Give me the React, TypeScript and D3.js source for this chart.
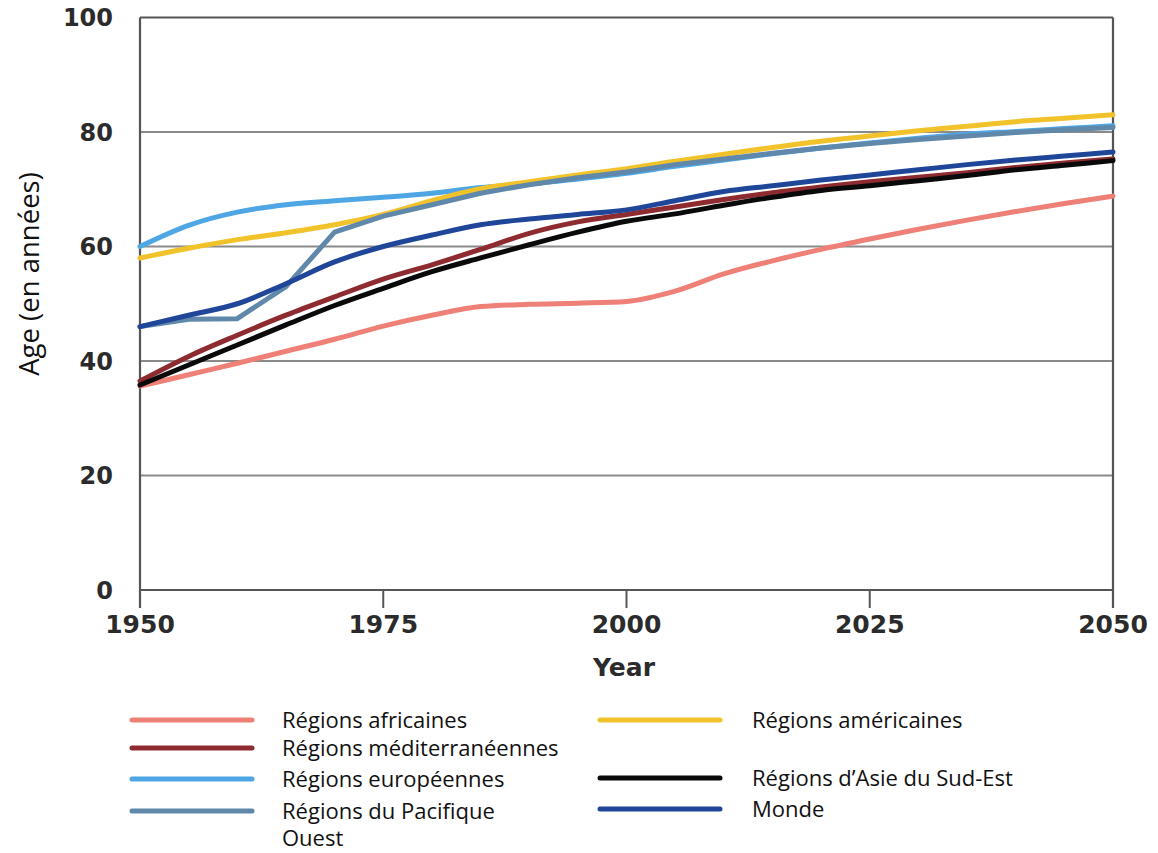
import React from "react";
import * as d3 from "d3";

const years = [1950, 1955, 1960, 1965, 1970, 1975, 1980, 1985, 1990, 1995, 2000, 2005, 2010, 2015, 2020, 2025, 2030, 2035, 2040, 2045, 2050];

const africaines = [35.6, 37.6, 39.6, 41.7, 43.8, 46.1, 48.0, 49.5, 49.9, 50.1, 50.4, 52.2, 55.2, 57.5, 59.5, 61.3, 63.0, 64.6, 66.1, 67.5, 68.8];
const americaines = [58.0, 59.7, 61.2, 62.4, 63.8, 65.6, 68.0, 70.1, 71.3, 72.5, 73.6, 74.9, 76.1, 77.3, 78.4, 79.3, 80.2, 81.0, 81.8, 82.4, 83.0];
const mediterraneennes = [36.5, 40.8, 44.5, 48.0, 51.2, 54.3, 56.8, 59.5, 62.3, 64.3, 65.6, 66.9, 68.2, 69.4, 70.4, 71.3, 72.1, 72.9, 73.8, 74.6, 75.3];
const europeennes = [60.0, 63.7, 66.0, 67.3, 68.0, 68.6, 69.3, 70.3, 70.9, 71.8, 72.8, 74.0, 75.1, 76.2, 77.2, 78.1, 78.9, 79.6, 80.1, 80.6, 81.1];
const asieSudEst = [35.8, 39.3, 42.8, 46.3, 49.7, 52.7, 55.6, 58.0, 60.3, 62.5, 64.4, 65.7, 67.2, 68.6, 69.8, 70.6, 71.5, 72.4, 73.4, 74.2, 75.0];
const pacifiqueOuest = [46.0, 47.3, 47.4, 53.0, 62.5, 65.3, 67.3, 69.3, 70.8, 72.0, 73.0, 74.3, 75.3, 76.3, 77.2, 78.0, 78.7, 79.3, 79.9, 80.4, 80.8];
const monde = [46.0, 48.0, 50.0, 53.5, 57.3, 60.0, 62.0, 63.8, 64.8, 65.6, 66.4, 68.0, 69.6, 70.6, 71.6, 72.5, 73.4, 74.3, 75.1, 75.8, 76.5];

const xTicks = [1950, 1975, 2000, 2025, 2050];
const yTicks = [0, 20, 40, 60, 80, 100];

const series = [
  { name: "Régions africaines", values: africaines, color: "#ee8078", smooth: true },
  { name: "Régions méditerranéennes", values: mediterraneennes, color: "#8e2b30", smooth: true },
  { name: "Régions européennes", values: europeennes, color: "#4ea6e4", smooth: true },
  { name: "Régions américaines", values: americaines, color: "#f2c22a", smooth: true },
  { name: "Régions du Pacifique Ouest", values: pacifiqueOuest, color: "#5f88aa", smooth: false },
  { name: "Régions d’Asie du Sud-Est", values: asieSudEst, color: "#0a0a0a", smooth: true },
  { name: "Monde", values: monde, color: "#1f4699", smooth: true },
];

export default function App() {
  const left = 140, right = 1113, top = 17.5, bottom = 590;
  const x = d3.scaleLinear().domain([1950, 2050]).range([left, right]);
  const y = d3.scaleLinear().domain([0, 100]).range([bottom, top]);
  const smoothLine = d3
    .line<number>()
    .x((_, i) => x(years[i]))
    .y((v) => y(v))
    .curve(d3.curveMonotoneX);
  const straightLine = d3
    .line<number>()
    .x((_, i) => x(years[i]))
    .y((v) => y(v))
    .curve(d3.curveLinear);

  const tickFont = { fontFamily: "'DejaVu Sans', sans-serif", fontWeight: "bold", fontSize: 24, fill: "#2b2b2b" } as const;
  const legFont = { fontFamily: "'Open Sans', sans-serif", fontSize: 22, fill: "#111" } as const;

  const legendItems = [
    { s: series[0], lx: 132, ly: 720, tx: 282, lines: ["Régions africaines"] },
    { s: series[1], lx: 132, ly: 748, tx: 282, lines: ["Régions méditerranéennes"] },
    { s: series[2], lx: 132, ly: 779, tx: 282, lines: ["Régions européennes"] },
    { s: series[4], lx: 132, ly: 811, tx: 282, lines: ["Régions du Pacifique", "Ouest"] },
    { s: series[3], lx: 600, ly: 720, tx: 752, lines: ["Régions américaines"] },
    { s: series[5], lx: 600, ly: 778, tx: 752, lines: ["Régions d’Asie du Sud-Est"] },
    { s: series[6], lx: 600, ly: 809, tx: 752, lines: ["Monde"] },
  ];

  return (
    <svg width={1158} height={853} style={{ position: "absolute", left: 0, top: 0, background: "#fff" }}>
      {yTicks.map((t) => (
        <line key={"g" + t} x1={left} x2={right} y1={y(t)} y2={y(t)} stroke={t === 0 || t === 100 ? "#555" : "#8a8a8a"} strokeWidth={2} />
      ))}
      <line x1={left} x2={left} y1={top} y2={608} stroke="#555" strokeWidth={2.2} />
      <line x1={right} x2={right} y1={top} y2={608} stroke="#555" strokeWidth={2.2} />
      {xTicks.map((t) => (
        <line key={"xt" + t} x1={x(t)} x2={x(t)} y1={bottom} y2={608} stroke="#555" strokeWidth={2} />
      ))}
      {yTicks.map((t) => (
        <text key={"yl" + t} x={113} y={y(t)} dy="0.36em" textAnchor="end" {...tickFont}>
          {t}
        </text>
      ))}
      {xTicks.map((t) => (
        <text key={"xl" + t} x={x(t)} y={633} textAnchor="middle" {...tickFont} fontSize={25}>
          {t}
        </text>
      ))}
      <text x={624} y={676} textAnchor="middle" {...tickFont} fontSize={25}>
        Year
      </text>
      <text
        transform={`translate(39,274) rotate(-90)`}
        textAnchor="middle"
        fontFamily="'Open Sans', sans-serif"
        fontSize={27.5}
        fill="#111"
      >
        Age (en années)
      </text>
      {series.map((s) => (
        <path
          key={s.name}
          d={(s.smooth ? smoothLine(s.values) : straightLine(s.values)) || ""}
          fill="none"
          stroke={s.color}
          strokeWidth={5}
          strokeLinejoin="round"
          strokeLinecap="round"
        />
      ))}
      {legendItems.map((it) => (
        <g key={"lg" + it.s.name}>
          <line x1={it.lx} x2={it.lx + 120} y1={it.ly} y2={it.ly} stroke={it.s.color} strokeWidth={5} strokeLinecap="round" />
          {it.lines.map((ln, i) => (
            <text key={i} x={it.tx} y={it.ly + 27 * i} dy="0.35em" {...legFont}>
              {ln}
            </text>
          ))}
        </g>
      ))}
    </svg>
  );
}
